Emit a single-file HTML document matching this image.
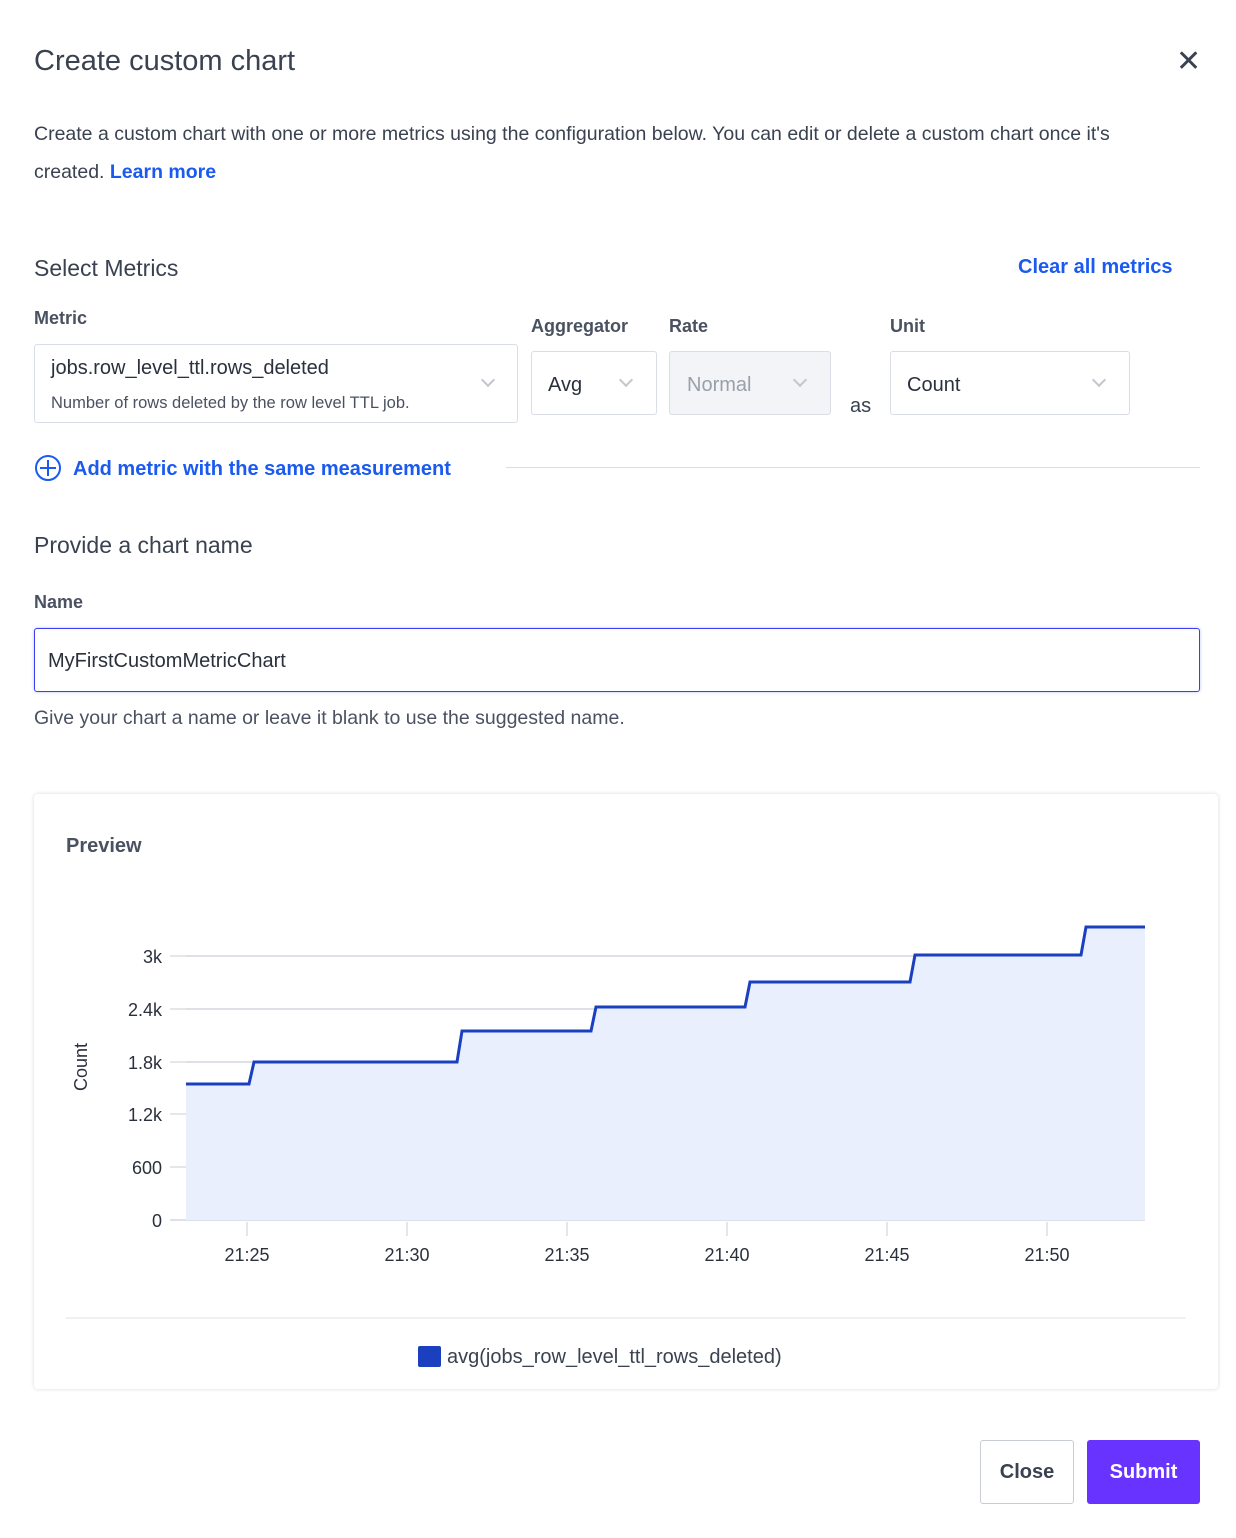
<!DOCTYPE html>
<html><head><meta charset="utf-8">
<style>
*{box-sizing:border-box;margin:0;padding:0}
body{width:1236px;height:1538px;background:#fff;font-family:"Liberation Sans",sans-serif;color:#3a4150;position:relative;overflow:hidden}
.a{position:absolute;white-space:nowrap}
.box{position:absolute;border:1px solid #d9dde6;border-radius:3px;background:#fff}
.chev{position:absolute;width:10px;height:10px;border-right:2px solid #c2c6cf;border-bottom:2px solid #c2c6cf;transform:rotate(45deg)}
.lbl{font-size:18px;font-weight:bold;color:#4a5160}
</style></head><body>
<div class="a" style="left:34px;top:45px;font-size:29px;color:#3a4150">Create custom chart</div>
<div class="a" style="left:1176px;top:44px;font-size:30px;color:#3a4150;font-weight:300">✕</div>
<div class="a" style="left:34px;top:115px;font-size:19.5px;line-height:38px;color:#3a4150;white-space:normal;width:1135px">Create a custom chart with one or more metrics using the configuration below. You can edit or delete a custom chart once it's created. <span style="color:#1a5af0;font-weight:bold">Learn more</span></div>
<div class="a" style="left:34px;top:255px;font-size:23px;color:#3a4150">Select Metrics</div>
<div class="a" style="left:1018px;top:256px;font-size:20px;color:#1a5af0;font-weight:bold">Clear all metrics</div>
<div class="a lbl" style="left:34px;top:308px">Metric</div>
<div class="a lbl" style="left:531px;top:316px">Aggregator</div>
<div class="a lbl" style="left:669px;top:316px">Rate</div>
<div class="a lbl" style="left:890px;top:316px">Unit</div>
<div class="box" style="left:34px;top:344px;width:484px;height:79px"></div>
<div class="a" style="left:51px;top:357px;font-size:20px;color:#2a303c">jobs.row_level_ttl.rows_deleted</div>
<div class="a" style="left:51px;top:394px;font-size:16.5px;color:#4a5160">Number of rows deleted by the row level TTL job.</div>
<div class="chev" style="left:483px;top:375px"></div>
<div class="box" style="left:531px;top:351px;width:126px;height:64px"></div>
<div class="a" style="left:548px;top:374px;font-size:20px;color:#2a303c">Avg</div>
<div class="chev" style="left:621px;top:375px"></div>
<div class="box" style="left:669px;top:351px;width:162px;height:64px;background:#f3f4f7"></div>
<div class="a" style="left:687px;top:374px;font-size:20px;color:#9aa0ab">Normal</div>
<div class="chev" style="left:795px;top:375px"></div>
<div class="a" style="left:850px;top:395px;font-size:20px;color:#3a4150">as</div>
<div class="box" style="left:890px;top:351px;width:240px;height:64px"></div>
<div class="a" style="left:907px;top:374px;font-size:20px;color:#2a303c">Count</div>
<div class="chev" style="left:1094px;top:375px"></div>
<div class="a" style="left:35px;top:455px;width:26px;height:26px;border:2px solid #1a5af0;border-radius:50%"></div>
<div class="a" style="left:40px;top:467px;width:16px;height:2px;background:#1a5af0"></div>
<div class="a" style="left:47px;top:460px;width:2px;height:16px;background:#1a5af0"></div>
<div class="a" style="left:73px;top:458px;font-size:20px;color:#1a5af0;font-weight:bold">Add metric with the same measurement</div>
<div class="a" style="left:506px;top:467px;width:694px;height:1px;background:#d9dde6"></div>
<div class="a" style="left:34px;top:532px;font-size:23px;color:#3a4150">Provide a chart name</div>
<div class="a lbl" style="left:34px;top:592px">Name</div>
<div class="a" style="left:34px;top:628px;width:1166px;height:64px;border:1px solid #3b3ff0;border-radius:3px;box-shadow:0 0 3px #b8c4f5"></div>
<div class="a" style="left:48px;top:650px;font-size:20px;color:#2a303c">MyFirstCustomMetricChart</div>
<div class="a" style="left:34px;top:707px;font-size:19.5px;color:#4a5160">Give your chart a name or leave it blank to use the suggested name.</div>
<div class="a" style="left:34px;top:794px;width:1184px;height:595px;border-radius:4px;box-shadow:0 0 4px rgba(0,0,0,0.15);background:#fff"></div>
<div class="a" style="left:66px;top:835px;font-size:20px;color:#4a5160;font-weight:bold">Preview</div>
<svg class="a" style="left:0;top:0" width="1236" height="1538">
<g stroke="#dde0e8" stroke-width="2">
<line x1="186" y1="956" x2="1145" y2="956"/><line x1="186" y1="1009" x2="1145" y2="1009"/>
<line x1="186" y1="1062" x2="1145" y2="1062"/>
<line x1="186" y1="1114" x2="1145" y2="1114"/><line x1="186" y1="1167" x2="1145" y2="1167"/>
<line x1="170" y1="1220" x2="1145" y2="1220"/>
</g>
<g stroke="#e6e6e6" stroke-width="2">
<line x1="170" y1="956" x2="186" y2="956"/><line x1="170" y1="1009" x2="186" y2="1009"/><line x1="170" y1="1062" x2="186" y2="1062"/><line x1="170" y1="1114" x2="186" y2="1114"/><line x1="170" y1="1167" x2="186" y2="1167"/>
<line x1="247" y1="1222" x2="247" y2="1236"/><line x1="407" y1="1222" x2="407" y2="1236"/><line x1="567" y1="1222" x2="567" y2="1236"/><line x1="727" y1="1222" x2="727" y2="1236"/><line x1="887" y1="1222" x2="887" y2="1236"/><line x1="1047" y1="1222" x2="1047" y2="1236"/>
</g>
<path d="M186 1084 L249 1084 L254 1062 L457 1062 L462 1031 L591 1031 L596 1007 L745 1007 L750 982 L910 982 L915 955 L1081 955 L1086 927 L1145 927 L1145 1220 L186 1220Z" fill="#e9effd"/>
<path d="M186 1084 L249 1084 L254 1062 L457 1062 L462 1031 L591 1031 L596 1007 L745 1007 L750 982 L910 982 L915 955 L1081 955 L1086 927 L1145 927" fill="none" stroke="#1a3fbf" stroke-width="3"/>
<g font-family="Liberation Sans,sans-serif" font-size="18" fill="#2a303c" text-anchor="end">
<text x="162" y="963">3k</text><text x="162" y="1016">2.4k</text><text x="162" y="1069">1.8k</text><text x="162" y="1121">1.2k</text><text x="162" y="1174">600</text><text x="162" y="1227">0</text>
</g>
<g font-family="Liberation Sans,sans-serif" font-size="18" fill="#2a303c" text-anchor="middle">
<text x="247" y="1261">21:25</text><text x="407" y="1261">21:30</text><text x="567" y="1261">21:35</text><text x="727" y="1261">21:40</text><text x="887" y="1261">21:45</text><text x="1047" y="1261">21:50</text>
</g>
<text x="87" y="1067" transform="rotate(-90 87 1067)" font-family="Liberation Sans,sans-serif" font-size="18" fill="#2a303c" text-anchor="middle">Count</text>
<line x1="66" y1="1318" x2="1186" y2="1318" stroke="#dde0e8" stroke-width="1"/>
<rect x="418" y="1346" width="23" height="21" fill="#1a3fbf" rx="2"/>
<text x="447" y="1363" font-family="Liberation Sans,sans-serif" font-size="20" fill="#3a4150">avg(jobs_row_level_ttl_rows_deleted)</text>
</svg>
<div class="a" style="left:980px;top:1440px;width:94px;height:64px;border:1px solid #c8ccd5;border-radius:3px;font-size:20px;font-weight:bold;color:#3a4150;text-align:center;line-height:62px">Close</div>
<div class="a" style="left:1087px;top:1440px;width:113px;height:64px;background:#6933ff;border-radius:3px;font-size:20px;font-weight:bold;color:#fff;text-align:center;line-height:64px">Submit</div>
</body></html>
